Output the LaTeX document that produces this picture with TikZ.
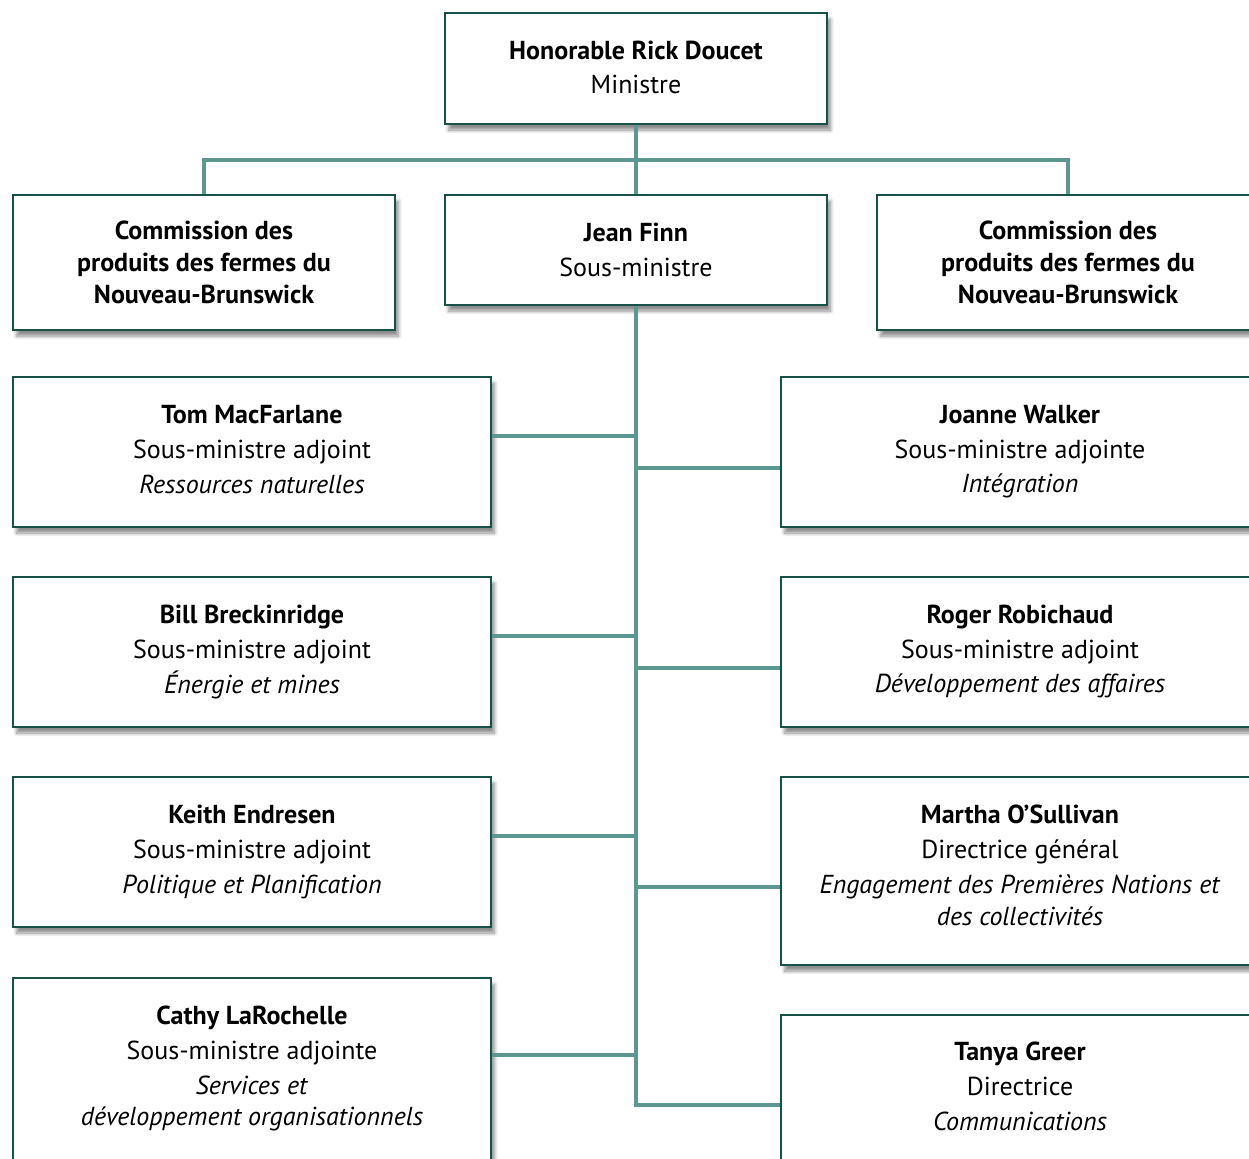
\documentclass[tikz,border=0pt]{standalone}
\usepackage{fontspec}
\setmainfont{PT Sans}
\usetikzlibrary{shadows.blur}

\definecolor{boxline}{RGB}{22,82,72}
\definecolor{linkteal}{RGB}{92,152,145}

% extra depth under the last line, lifts the text a little
\newcommand{\liftby}[1]{\rule[-#1]{0pt}{0pt}}

\tikzset{
	orgbox/.style={draw=boxline, line width=1.6pt, fill=white, align=center,
		inner sep=0pt, font=\fontsize{14.8}{18.2}\selectfont,
		blur shadow={shadow xshift=2pt, shadow yshift=-3.5pt, shadow blur steps=8, shadow opacity=45}},
	link/.style={draw=linkteal, line width=2.8pt}
}

\begin{document}
\begin{tikzpicture}[x=0.02cm, y=-0.02cm]
	\useasboundingbox (0,0) rectangle (1249,1159);

	% top of the chart
	\node[orgbox, minimum width=7.64cm, minimum height=2.22cm] (mini) at (636,68.5)
		{\textbf{Honorable Rick Doucet}\\[1.5pt] Ministre\liftby{1.5pt}};
	\node[orgbox, minimum width=7.64cm, minimum height=2.7cm] (comL) at (204,262.5)
		{\textbf{Commission des}\\ \textbf{produits des fermes du}\\ \textbf{Nouveau-Brunswick}};
	\node[orgbox, minimum width=7.64cm, minimum height=2.2cm] (finn) at (636,250)
		{\textbf{Jean Finn}\\[1.5pt] Sous-ministre};
	\node[orgbox, minimum width=7.64cm, minimum height=2.7cm] (comR) at (1068,262.5)
		{\textbf{Commission des}\\ \textbf{produits des fermes du}\\ \textbf{Nouveau-Brunswick}};

	% left column
	\node[orgbox, minimum width=9.56cm, minimum height=3cm] (tom) at (252,452)
		{\textbf{Tom MacFarlane}\\[1.5pt] Sous-ministre adjoint\\[1.5pt] \textit{Ressources naturelles}\liftby{3pt}};
	\node[orgbox, minimum width=9.56cm, minimum height=3cm] (bill) at (252,652)
		{\textbf{Bill Breckinridge}\\[1.5pt] Sous-ministre adjoint\\[1.5pt] \textit{Énergie et mines}\liftby{3pt}};
	\node[orgbox, minimum width=9.56cm, minimum height=3cm] (keith) at (252,852)
		{\textbf{Keith Endresen}\\[1.5pt] Sous-ministre adjoint\\[1.5pt] \textit{Politique et Planification}\liftby{3pt}};
	\node[orgbox, minimum width=9.56cm, minimum height=3.7cm] (cathy) at (252,1070.5)
		{\textbf{Cathy LaRochelle}\\[1.5pt] Sous-ministre adjointe\\[1.5pt] \textit{Services et}\\ \textit{développement organisationnels}\liftby{5pt}};

	% right column
	\node[orgbox, minimum width=9.56cm, minimum height=3cm] (joanne) at (1020,452)
		{\textbf{Joanne Walker}\\[1.5pt] Sous-ministre adjointe\\[1.5pt] \textit{Intégration}\liftby{3.5pt}};
	\node[orgbox, minimum width=9.56cm, minimum height=3cm] (roger) at (1020,652)
		{\textbf{Roger Robichaud}\\[1.5pt] Sous-ministre adjoint\\[1.5pt] \textit{Développement des affaires}\liftby{3.5pt}};
	\node[orgbox, minimum width=9.56cm, minimum height=3.76cm] (martha) at (1020,871)
		{\textbf{Martha O’Sullivan}\\[1.5pt] Directrice général\\[1.5pt] \textit{Engagement des Premières Nations et}\\ \textit{des collectivités}\liftby{6.5pt}};
	\node[orgbox, minimum width=9.56cm, minimum height=2.94cm] (tanya) at (1020,1088.5)
		{\textbf{Tanya Greer}\\[1.5pt] Directrice\\[1.5pt] \textit{Communications}\liftby{2.5pt}};

	% connectors
	\coordinate (bar) at (636,160);
	\coordinate (spine) at (636,1105);
	\draw[link] (mini.south) -- (finn.north);
	\draw[link] (comL.north) |- (bar) -| (comR.north);
	\draw[link] (finn.south) -- (spine) -- (tanya.west |- spine);
	\draw[link] (tom.east |- 0,436) -- (finn.south |- 0,436);
	\draw[link] (bill.east |- 0,636) -- (finn.south |- 0,636);
	\draw[link] (keith.east |- 0,836) -- (finn.south |- 0,836);
	\draw[link] (cathy.east |- 0,1055) -- (finn.south |- 0,1055);
	\draw[link] (joanne.west |- 0,468) -- (finn.south |- 0,468);
	\draw[link] (roger.west |- 0,668) -- (finn.south |- 0,668);
	\draw[link] (martha.west |- 0,887) -- (finn.south |- 0,887);
\end{tikzpicture}
\end{document}
